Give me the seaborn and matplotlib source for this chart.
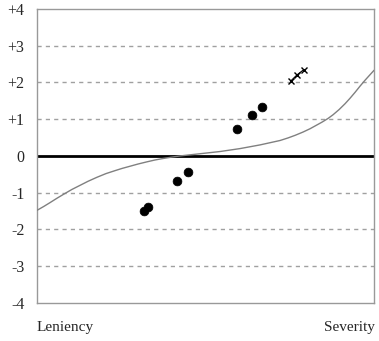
import matplotlib
matplotlib.use('Agg')
import matplotlib.pyplot as plt
import numpy as np
import pandas as pd
import seaborn as sns

# curve (x on a 0-100 scale)
curve_x = [0, 2.08, 3.86, 5.93, 8.31, 10.39, 12.76, 15.13, 17.80, 20.47,
           23.15, 25.22, 27.60, 29.97, 32.64, 35.01, 37.39, 39.76, 42.43,
           45.40, 48.37, 51.34, 54.30, 57.27, 60.24, 63.20, 66.17, 69.14,
           72.11, 74.48, 76.56, 78.93, 81.01, 82.79, 84.57, 86.35, 87.83,
           89.61, 91.39, 92.88, 94.36, 95.85, 97.33, 98.81, 100]
curve_y = [-1.48, -1.37, -1.27, -1.15, -1.02, -0.91, -0.80, -0.69, -0.58,
           -0.48, -0.40, -0.34, -0.28, -0.22, -0.16, -0.11, -0.07, -0.035,
           0.00, 0.03, 0.06, 0.09, 0.12, 0.16, 0.20, 0.25, 0.30, 0.36, 0.42,
           0.49, 0.56, 0.65, 0.74, 0.83, 0.92, 1.02, 1.12, 1.26, 1.42, 1.57,
           1.73, 1.90, 2.06, 2.21, 2.33]

dot_x = [31.6, 33.0, 41.5, 44.8, 59.3, 63.8, 66.8]
dot_y = [-1.50, -1.39, -0.68, -0.44, 0.74, 1.12, 1.34]

cross_x = [75.4, 77.2, 79.2]
cross_y = [2.05, 2.21, 2.35]

yticks = [-4, -3, -2, -1, 0, 1, 2, 3, 4]
ytick_labels = ['-4', '-3', '-2', '-1', '0', '+1', '+2', '+3', '+4']

if __name__ == '__main__':
    sns.set_style('white')
    plt.rcParams['font.family'] = ['Liberation Serif', 'DejaVu Serif']

    fig = plt.figure(figsize=(3.79, 3.41), dpi=100)
    ax = fig.add_axes([0.0976, 0.1114, 0.8894, 0.8626])

    for v in [-3, -2, -1, 1, 2, 3]:
        ax.axhline(v, color='#a0a0a0', lw=1, ls=(0, (3, 3)), zorder=1)
    ax.axhline(0, color='black', lw=2, zorder=2)

    curve = pd.DataFrame({'x': curve_x, 'y': curve_y})
    sns.lineplot(x='x', y='y', data=curve, color='#808080', lw=1, ax=ax,
                 zorder=3)

    dots = pd.DataFrame({'x': dot_x, 'y': dot_y})
    sns.scatterplot(x='x', y='y', data=dots, color='black', s=40,
                    edgecolor='black', ax=ax, zorder=4)

    crosses = pd.DataFrame({'x': cross_x, 'y': cross_y})
    sns.lineplot(x='x', y='y', data=crosses, color='black', lw=0.8,
                 marker='x', markersize=5, markeredgewidth=1,
                 markeredgecolor='black', ax=ax, zorder=4)

    ax.set_xlim(0, 100)
    ax.set_ylim(-4, 4)
    ax.set_xticks([])
    ax.set_yticks(yticks)
    ax.set_yticklabels(ytick_labels, fontsize=11.5)
    ax.tick_params(axis='y', length=0, pad=9)
    ax.set_xlabel('')
    ax.set_ylabel('')
    for s in ax.spines.values():
        s.set_color('#999999')
        s.set_linewidth(1)

    fig.text(37 / 379, 1 - 328 / 341, 'Leniency', fontsize=11,
             ha='left', va='center')
    fig.text(375 / 379, 1 - 328 / 341, 'Severity', fontsize=11,
             ha='right', va='center')

    plt.savefig('out.png', dpi=100)
    plt.close()
# EOF
